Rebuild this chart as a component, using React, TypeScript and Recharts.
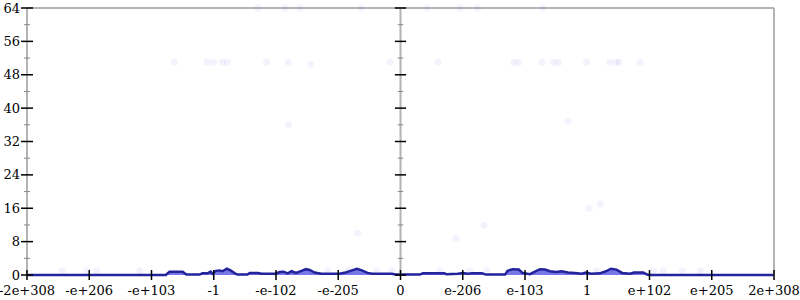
import { ComposedChart, Area, Scatter, XAxis, YAxis, ReferenceLine } from 'recharts';

// x positions are in tick units: -6 .. 6 maps to the 13 log-ish tick labels
const xTicks = [-6, -5, -4, -3, -2, -1, 0, 1, 2, 3, 4, 5, 6];
const xTickLabels = ['-2e+308', '-e+206', '-e+103', '-1', '-e-102', '-e-205', '0', 'e-206', 'e-103', '1', 'e+102', 'e+205', '2e+308'];
const yTicks = [0, 4, 8, 12, 16, 20, 24, 28, 32, 36, 40, 44, 48, 52, 56, 60, 64];

const densityX = [
  -6, -3.77, -3.71, -3.5, -3.44, -3.23, -3.18, -3.1, -3.05, -3.02, -2.97, -2.91, -2.86, -2.79, -2.73, -2.66, -2.62,
  -2.46, -2.42, -2.29, -2.23, -2.01, -1.94, -1.88, -1.81, -1.75, -1.68, -1.59, -1.52, -1.46, -1.38, -1.27, -0.98,
  -0.88, -0.78, -0.7, -0.62, -0.53, -0.45, -0.14, -0.08, 0.31, 0.36, 0.7, 0.74, 0.92, 1.0, 1.08, 1.15, 1.31, 1.37,
  1.68, 1.72, 1.8, 1.9, 1.96, 2.08, 2.16, 2.24, 2.32, 2.4, 2.5, 2.59, 2.69, 2.8, 2.91, 2.98, 3.06, 3.2, 3.3, 3.38,
  3.47, 3.56, 3.69, 3.75, 3.9, 3.96, 4.0, 6,
];
const densityY = [
  0, 0, 0.8, 0.8, 0.1, 0.1, 0.4, 0.4, 0.8, 0.3, 1.0, 1.1, 0.9, 1.5, 1.1, 0.4, 0.1,
  0.1, 0.5, 0.5, 0.3, 0.3, 0.7, 0.8, 0.4, 0.9, 0.5, 1.0, 1.4, 1.2, 0.6, 0.3, 0.3,
  0.6, 1.1, 1.5, 1.1, 0.5, 0.3, 0.3, 0.1, 0.1, 0.4, 0.4, 0.2, 0.3, 0.5, 0.3, 0.4, 0.4, 0.1,
  0.1, 1.0, 1.4, 1.3, 0.5, 0.2, 0.8, 1.4, 1.3, 0.9, 0.7, 0.9, 0.6, 0.5, 0.3, 0.6, 0.3, 0.4, 0.9, 1.5,
  1.3, 0.5, 0.3, 0.6, 0.6, 0.1, 0, 0,
];

const sampleX = [
  -3.63, -3.11, -3.0, -2.86, -2.78, -2.15, -1.8, -1.44, -0.17, 0.6, 1.82, 1.9, 2.27, 2.46, 2.54, 2.99, 3.36, 3.46, 3.51, 3.85,
  -2.29, -1.86, -1.62, -0.64, 0.42, 0.95, 1.24, 2.29,
  -1.8, -0.69, 0.89, 1.34, 2.69, 3.03, 3.21,
  -5.43, -5.04, -4.88, -4.19, -1.17, -0.85, -0.38, -0.14, 0.63, 1.11, 1.39, 3.15, 4.06, 4.22, 4.53, 4.82,
];
const sampleY = [
  51, 51, 51, 51, 51, 51, 51, 50.5, 51, 51, 51, 51, 51, 51, 51, 51, 51, 51, 51, 51,
  64, 64, 64, 64, 64, 64, 64, 64,
  36, 10, 8.8, 11.9, 37, 16, 17,
  1, 1, 1, 1, 1, 1, 1, 1, 1, 1, 1, 1, 1, 1, 1, 1,
];

const density = densityX.map((x, i) => ({ x, v: densityY[i] }));
const samples = sampleX.map((x, i) => ({ x, v: sampleY[i] }));

const AXIS_GRAY = '#b4b4b4';
const FONT = '"DejaVu Serif", serif';

const LeftTick = (props: any) => {
  const { x, y, payload } = props;
  const major = payload.value % 8 === 0;
  return (
    <g>
      {major ? (
        <>
          <line x1={x - 6} x2={x + 6} y1={y} y2={y} stroke="#000" strokeWidth={1.5} />
          <text x={x - 7} y={y + 4.5} textAnchor="end" fontSize={13} fontFamily={FONT} fill="#000">
            {payload.value}
          </text>
        </>
      ) : (
        <line x1={x - 3} x2={x + 3} y1={y} y2={y} stroke="#888" strokeWidth={1} />
      )}
    </g>
  );
};

const RightTick = (props: any) => {
  const { x, y, payload } = props;
  const major = payload.value % 8 === 0;
  return major ? (
    <line x1={x - 6} x2={x + 6} y1={y} y2={y} stroke="#000" strokeWidth={1.5} />
  ) : (
    <line x1={x - 3} x2={x + 3} y1={y} y2={y} stroke="#888" strokeWidth={1} />
  );
};

const BottomTick = (props: any) => {
  const { x, y, index } = props;
  return (
    <g>
      <line x1={x} x2={x} y1={y - 5} y2={y + 5} stroke="#000" strokeWidth={1.5} />
      <text x={x} y={y + 20} textAnchor="middle" fontSize={13} fontFamily={FONT} fill="#000">
        {xTickLabels[index]}
      </text>
    </g>
  );
};

const Dot = (props: any) => (
  <circle cx={props.cx} cy={props.cy} r={3.5} fill="#5a5ae6" fillOpacity={0.07} />
);

export default function App() {
  return (
    <div style={{ position: 'absolute', left: 0, top: 0, background: '#fff' }}>
      <ComposedChart width={800} height={300} data={density} margin={{ top: 8, right: 0, bottom: 0, left: 0 }}>
        <XAxis
          dataKey="x"
          type="number"
          domain={[-6, 6]}
          ticks={xTicks}
          interval={0}
          height={25}
          tickSize={0}
          tickMargin={0}
          axisLine={false}
          tick={<BottomTick />}
        />
        <YAxis
          dataKey="v"
          domain={[0, 64]}
          ticks={yTicks}
          interval={0}
          width={27}
          tickSize={0}
          tickMargin={0}
          axisLine={{ stroke: AXIS_GRAY, strokeWidth: 2 }}
          tick={<LeftTick />}
        />
        <YAxis
          yAxisId="r"
          orientation="right"
          domain={[0, 64]}
          ticks={yTicks}
          interval={0}
          width={26}
          tickSize={0}
          tickMargin={0}
          axisLine={{ stroke: AXIS_GRAY, strokeWidth: 2 }}
          tick={<RightTick />}
        />
        <ReferenceLine y={64} stroke={AXIS_GRAY} strokeWidth={2} />
        <ReferenceLine x={0} stroke={AXIS_GRAY} strokeWidth={2} />
        {yTicks.map((t) => (
          <ReferenceLine
            key={t}
            segment={t % 8 === 0 ? [{ x: -0.09, y: t }, { x: 0.09, y: t }] : [{ x: -0.045, y: t }, { x: 0.045, y: t }]}
            stroke={t % 8 === 0 ? '#000' : '#888'}
            strokeWidth={t % 8 === 0 ? 1.5 : 1}
          />
        ))}
        <Scatter data={samples} dataKey="v" shape={<Dot />} isAnimationActive={false} />
        <Area
          dataKey="v"
          type="linear"
          stroke="#23239c"
          strokeWidth={2.5}
          fill="#4a4ae0"
          fillOpacity={0.75}
          baseValue={0}
          dot={false}
          activeDot={false}
          isAnimationActive={false}
        />
      </ComposedChart>
    </div>
  );
}
